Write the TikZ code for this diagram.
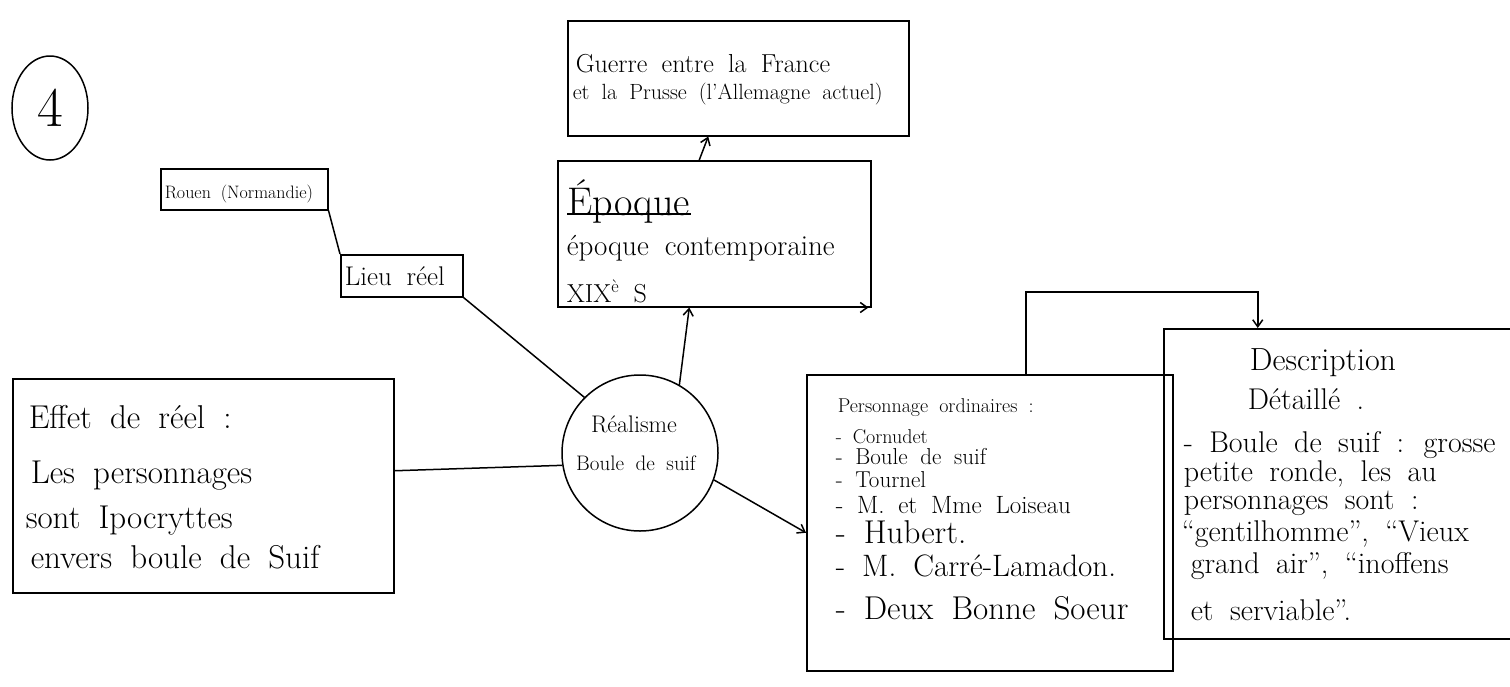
\documentclass[tikz,border=0pt]{standalone}
\usepackage{fontspec}
\usetikzlibrary{arrows.meta,shapes.geometric,calc}
\newcommand\fsz[1]{\fontsize{#1}{#1}\selectfont\spaceskip=0.55em\relax}
\begin{document}
\begin{tikzpicture}[x=1pt,y=-1pt,
  line width=1.5pt,
  box/.style={draw, rectangle, inner sep=0pt, anchor=north west},
  txt/.style={inner sep=0pt, anchor=base west},
  ctxt/.style={inner sep=0pt, anchor=base},
  arr/.style={-{Straight Barb[length=7pt,width=10pt]}}]
\useasboundingbox (0,0) rectangle (1510,686);
\clip (0,0) rectangle (1510,686);
\fill[white] (0,0) rectangle (1510,686);

% circled number
\node[draw, ellipse, minimum width=76, minimum height=104, inner sep=0pt] (num) at (50,108) {\fsz{56}4};

% boxes
\node[box, minimum width=341, minimum height=115] (guerre) at (567,20) {};
\node[box, minimum width=313, minimum height=146] (epoque) at (557,160) {};
\node[box, minimum width=167, minimum height=41] (rouen) at (160,168) {};
\node[box, minimum width=122, minimum height=42] (lieu) at (340,254) {};
\node[box, minimum width=381, minimum height=214] (effet) at (12,378) {};
\node[box, minimum width=366, minimum height=296] (perso) at (806,374) {};
\node[box, minimum width=370, minimum height=310] (desc) at (1163,328) {};
\node[draw, circle, minimum size=156, inner sep=0pt] (real) at (640,453) {};

% texts
\node[txt, font=\fsz{26}] (g1) at (575,72) {Guerre entre la France};
\node[txt, font=\fsz{22}] (g2) at (572,99) {et la Prusse (l'Allemagne actuel)};

\node[txt, font=\fsz{40}] (ep1) at (567,215) {Époque};
\node[txt, font=\fsz{29}] (ep2) at (566,255) {époque contemporaine};
\node[txt, font=\fsz{26}] (ep3) at (566,302) {XIX\textsuperscript{è} S};

\node[txt, font=\fsz{18}] (rt) at (164,198) {Rouen (Normandie)};
\node[txt, font=\fsz{27}] (lt) at (344,285) {Lieu réel};

\node[ctxt, font=\fsz{24}] (r1) at (634,432) {Réalisme};
\node[ctxt, font=\fsz{21}] (r2) at (636,470) {Boule de suif};

\node[txt, font=\fsz{33}] (e1) at (28,428) {Effet de réel :};
\node[txt, font=\fsz{33}] (e2) at (30,483) {Les personnages};
\node[txt, font=\fsz{33}] (e3) at (25,528) {sont Ipocryttes};
\node[txt, font=\fsz{33}] (e4) at (30,568) {envers boule de Suif};

\node[txt, font=\fsz{20}] (p0) at (837,412) {Personnage ordinaires :};
\node[txt, font=\fsz{20}] (p1) at (835,443) {- Cornudet};
\node[txt, font=\fsz{23}] (p2) at (835,464) {- Boule de suif};
\node[txt, font=\fsz{23}] (p3) at (835,487) {- Tournel};
\node[txt, font=\fsz{25}] (p4) at (835,513) {- M. et Mme Loiseau};
\node[txt, font=\fsz{33}] (p5) at (835,543) {- Hubert.};
\node[txt, font=\fsz{31}] (p6) at (835,576) {- M. Carré-Lamadon.};
\node[txt, font=\fsz{33}] (p7) at (835,619) {- Deux Bonne Soeur};

\node[ctxt, font=\fsz{32}] (d0) at (1323,370) {Description};
\node[ctxt, font=\fsz{30}] (d1) at (1306,409) {Détaillé .};
\node[txt, font=\fsz{30}] (d2) at (1183,452) {- Boule de suif : grosse};
\node[txt, font=\fsz{30}] (d3) at (1183,481) {petite ronde, les au};
\node[txt, font=\fsz{30}] (d4) at (1183,509) {personnages sont :};
\node[txt, font=\fsz{30}] (d5) at (1181,541) {“gentilhomme”, “Vieux};
\node[txt, font=\fsz{30}] (d6) at (1190,573) {grand air”, “inoffens};
\node[txt, font=\fsz{30}] (d7) at (1190,620) {et serviable”.};

% underline of Époque
\draw (ep1.base west) ++(0,-1) coordinate (ul1) -- ($(ep1.base east)+(0,-1)$);

% connectors
\draw (rouen.south east) -- (lieu.north west);
\draw (lieu.south east) -- (real.135);
\draw ($(effet.east)+(0,-15)$) -- (real.189);
\draw[arr] (real.60) -- ($(epoque.south)+(-25,0)$);
\draw[arr] ($(epoque.north)+(-15,0)$) -- ($(guerre.south)+(-30,0)$);
\draw[arr] (epoque.south west) -- ($(epoque.south east)+(-3,0)$);
\draw[arr] (real.-20) -- ($(perso.west)+(0,10)$);
\coordinate (elbow) at (1140,292);
\draw[arr] ($(perso.north)+(36,0)$) |- (elbow) -| ($(desc.north)+(-91,0)$);
\end{tikzpicture}
\end{document}
